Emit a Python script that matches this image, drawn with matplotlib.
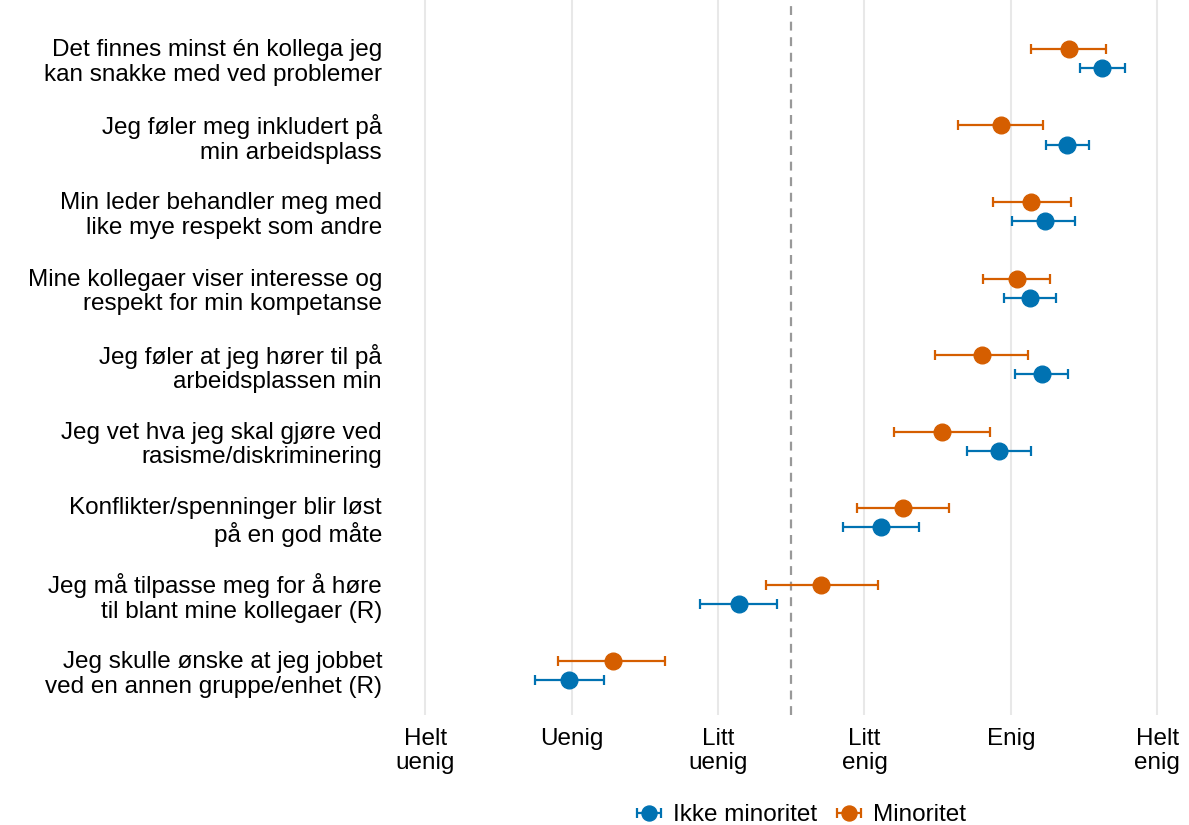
import matplotlib.pyplot as plt
import numpy as np

plt.rcParams["font.family"] = ["Liberation Sans", "DejaVu Sans"]

items = [
    "Det finnes minst én kollega jeg\nkan snakke med ved problemer",
    "Jeg føler meg inkludert på\nmin arbeidsplass",
    "Min leder behandler meg med\nlike mye respekt som andre",
    "Mine kollegaer viser interesse og\nrespekt for min kompetanse",
    "Jeg føler at jeg hører til på\narbeidsplassen min",
    "Jeg vet hva jeg skal gjøre ved\nrasisme/diskriminering",
    "Konflikter/spenninger blir løst\npå en god måte",
    "Jeg må tilpasse meg for å høre\ntil blant mine kollegaer (R)",
    "Jeg skulle ønske at jeg jobbet\nved en annen gruppe/enhet (R)",
]

min_mean = [5.40, 4.93, 5.14, 5.04, 4.80, 4.53, 4.26, 3.70, 2.28]
min_lo = [5.14, 4.64, 4.88, 4.81, 4.48, 4.20, 3.95, 3.33, 1.91]
min_hi = [5.65, 5.22, 5.41, 5.27, 5.12, 4.86, 4.58, 4.09, 2.64]

ikke_mean = [5.62, 5.38, 5.23, 5.13, 5.21, 4.92, 4.11, 3.14, 1.98]
ikke_lo = [5.47, 5.24, 5.01, 4.95, 5.03, 4.70, 3.85, 2.88, 1.75]
ikke_hi = [5.78, 5.53, 5.44, 5.31, 5.39, 5.14, 4.37, 3.40, 2.22]

scale_labels = ["Helt\nuenig", "Uenig", "Litt\nuenig", "Litt\nenig", "Enig", "Helt\nenig"]

blue = "#0072B2"
orange = "#D55E00"

fig = plt.figure(figsize=(11.89, 8.25), dpi=100)
ax = fig.add_axes([0.333, 0.1333, 0.665, 0.8667])

y = np.arange(len(items))
off = 0.125

ax.axvline(3.5, color="#999999", lw=1.6, ls=(0, (4, 3)), zorder=1)

ax.errorbar(ikke_mean, y + off,
            xerr=[np.array(ikke_mean) - np.array(ikke_lo), np.array(ikke_hi) - np.array(ikke_mean)],
            fmt="o", color=blue, ms=12, elinewidth=1.6, capsize=3.5, capthick=1.6,
            label="Ikke minoritet", zorder=3)
ax.errorbar(min_mean, y - off,
            xerr=[np.array(min_mean) - np.array(min_lo), np.array(min_hi) - np.array(min_mean)],
            fmt="o", color=orange, ms=12, elinewidth=1.6, capsize=3.5, capthick=1.6,
            label="Minoritet", zorder=3)

ax.set_xlim(0.8, 6.2)
ax.set_ylim(8.58, -0.765)
ax.set_xticks(range(1, 7))
ax.set_xticklabels(scale_labels, fontsize=17.5, linespacing=1.15)
ax.set_yticks(y)
ax.set_yticklabels(items, fontsize=17.5, linespacing=1.15)
ax.tick_params(length=0, pad=10)
ax.tick_params(axis="x", pad=9)
ax.grid(axis="x", color="#e8e8e8", lw=1.5)
ax.set_axisbelow(True)
for s in ax.spines.values():
    s.set_visible(False)

fig.legend(loc="center", bbox_to_anchor=(0.672, 0.012), ncol=2, frameon=False,
           fontsize=17.5, handlelength=1.4, handletextpad=0.3, columnspacing=0.6,
           markerscale=0.9)

fig.savefig("out.png", dpi=100)
